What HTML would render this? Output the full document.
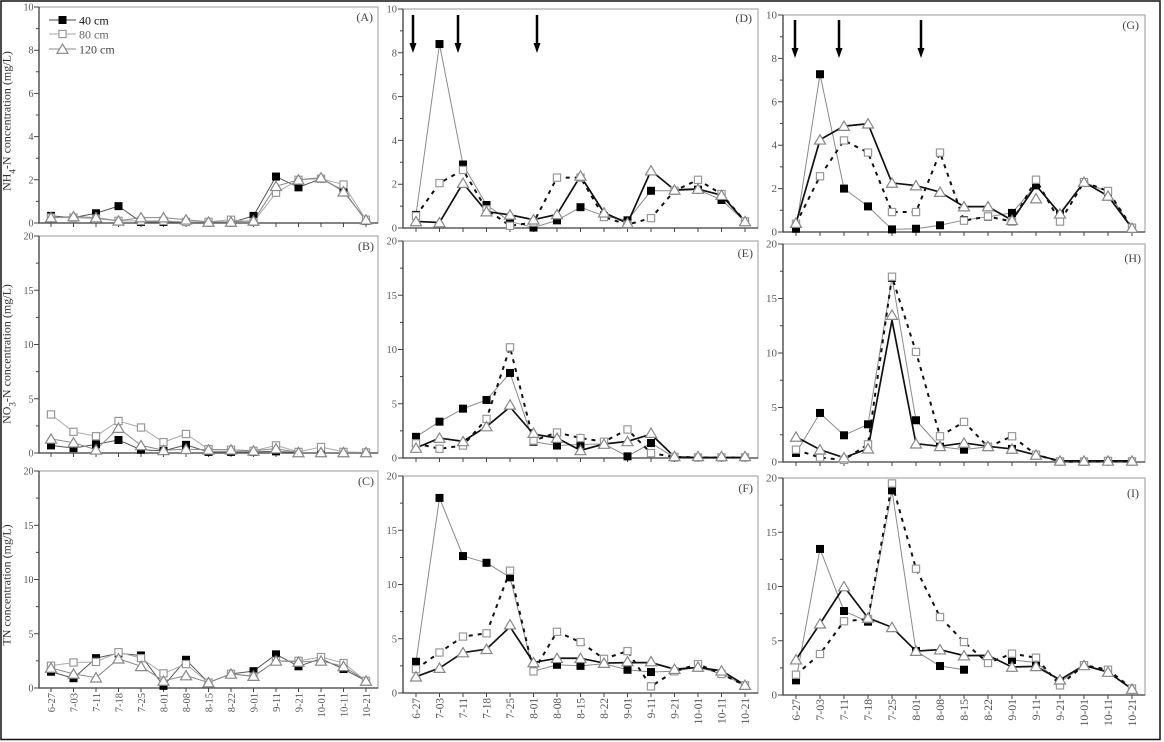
<!DOCTYPE html>
<html><head><meta charset="utf-8">
<style>
html,body{margin:0;padding:0;background:#fff}
svg{display:block}
text{font-family:"Liberation Serif",serif}
polyline{fill:none;vector-effect:non-scaling-stroke;stroke-linejoin:round}
.a{stroke:#555;stroke-width:1}.b{stroke:#aaa;stroke-width:1}.c{stroke:#888;stroke-width:1}
.f{stroke:#8a8a8a;stroke-width:1}.o{stroke:#111;stroke-width:2;stroke-dasharray:4 5}.t{stroke:#111;stroke-width:1.7}
.fr{fill:none;stroke:#aaa;stroke-width:1.2}
.ax{fill:none;stroke:#444;stroke-width:1.3}
.tk{fill:none;stroke:#444;stroke-width:1}
.yl{fill:#555;text-anchor:end}
.dl{fill:#555;text-anchor:end}
.pl{fill:#444;font-size:12px;text-anchor:end}
</style></head><body>
<svg width="1164" height="742" viewBox="0 0 1164 742" xmlns="http://www.w3.org/2000/svg">
<defs>
<rect id="bf" x="-4" y="-4" width="8" height="8" fill="#000"/>
<rect id="bo" x="-3.6" y="-3.6" width="7.2" height="7.2" fill="#fff" stroke="#999" stroke-width="1.2"/>
<polygon id="bt" points="0,-5 5.5,4.3 -5.5,4.3" fill="#fff" stroke="#888" stroke-width="1.2"/>
<g id="f1" transform="scale(0.044444,-0.046296)"><use href="#bf"/></g>
<g id="o1" transform="scale(0.044444,-0.046296)"><use href="#bo"/></g>
<g id="t1" transform="scale(0.044444,-0.046296)"><use href="#bt"/></g>
<g id="f2" transform="scale(0.044444,-0.092166)"><use href="#bf"/></g>
<g id="o2" transform="scale(0.044444,-0.092166)"><use href="#bo"/></g>
<g id="t2" transform="scale(0.044444,-0.092166)"><use href="#bt"/></g>
<g id="f3" transform="scale(0.042553,-0.045662)"><use href="#bf"/></g>
<g id="o3" transform="scale(0.042553,-0.045662)"><use href="#bo"/></g>
<g id="t3" transform="scale(0.042553,-0.045662)"><use href="#bt"/></g>
<g id="f4" transform="scale(0.042553,-0.092166)"><use href="#bf"/></g>
<g id="o4" transform="scale(0.042553,-0.092166)"><use href="#bo"/></g>
<g id="t4" transform="scale(0.042553,-0.092166)"><use href="#bt"/></g>
<g id="f5" transform="scale(0.041667,-0.046083)"><use href="#bf"/></g>
<g id="o5" transform="scale(0.041667,-0.046083)"><use href="#bo"/></g>
<g id="t5" transform="scale(0.041667,-0.046083)"><use href="#bt"/></g>
<g id="f6" transform="scale(0.041667,-0.091743)"><use href="#bf"/></g>
<g id="o6" transform="scale(0.041667,-0.091743)"><use href="#bo"/></g>
<g id="t6" transform="scale(0.041667,-0.091743)"><use href="#bt"/></g>
<g id="f7" transform="scale(0.041667,-0.092166)"><use href="#bf"/></g>
<g id="o7" transform="scale(0.041667,-0.092166)"><use href="#bo"/></g>
<g id="t7" transform="scale(0.041667,-0.092166)"><use href="#bt"/></g>
</defs>

<rect x="1" y="1" width="1159" height="738.5" fill="none" stroke="#111" stroke-width="1.5"/>

<!-- frames -->
<rect class="fr" x="39" y="7" width="339" height="216"/>
<rect class="fr" x="39" y="236" width="339" height="217"/>
<rect class="fr" x="39" y="471" width="339" height="217"/>
<rect class="fr" x="403" y="9" width="355" height="219"/>
<rect class="fr" x="403" y="241" width="355" height="217"/>
<rect class="fr" x="403" y="476" width="355" height="217"/>
<rect class="fr" x="783" y="15" width="362" height="217"/>
<rect class="fr" x="783" y="244" width="362" height="218"/>
<rect class="fr" x="783" y="478" width="362" height="217"/>
<path class="ax" d="M39,7V223H378M39,236V453H378M39,471V688H378M403,9V228H758M403,241V458H758M403,476V693H758M783,15V232H1145M783,244V462H1145M783,478V695H1145"/>

<!-- ticks -->
<path class="tk" d="
M39,223h-5m5,-43.2h-5m5,-43.2h-5m5,-43.2h-5m5,-43.2h-5m5,-43.2h-5
M39,201.4h-3m3,-43.2h-3m3,-43.2h-3m3,-43.2h-3m3,-43.2h-3
M39,453h-5m5,-54.25h-5m5,-54.25h-5m5,-54.25h-5m5,-54.25h-5
M39,425.9h-3m3,-54.25h-3m3,-54.25h-3m3,-54.25h-3
M39,688h-5m5,-54.25h-5m5,-54.25h-5m5,-54.25h-5m5,-54.25h-5
M39,660.9h-3m3,-54.25h-3m3,-54.25h-3m3,-54.25h-3
M403,228h-5m5,-43.8h-5m5,-43.8h-5m5,-43.8h-5m5,-43.8h-5m5,-43.8h-5
M403,206.1h-3m3,-43.8h-3m3,-43.8h-3m3,-43.8h-3m3,-43.8h-3
M403,458h-5m5,-54.25h-5m5,-54.25h-5m5,-54.25h-5m5,-54.25h-5
M403,430.9h-3m3,-54.25h-3m3,-54.25h-3m3,-54.25h-3
M403,693h-5m5,-54.25h-5m5,-54.25h-5m5,-54.25h-5m5,-54.25h-5
M403,665.9h-3m3,-54.25h-3m3,-54.25h-3m3,-54.25h-3
M783,232h-5m5,-43.4h-5m5,-43.4h-5m5,-43.4h-5m5,-43.4h-5m5,-43.4h-5
M783,210.3h-3m3,-43.4h-3m3,-43.4h-3m3,-43.4h-3m3,-43.4h-3
M783,462h-5m5,-54.5h-5m5,-54.5h-5m5,-54.5h-5m5,-54.5h-5
M783,434.75h-3m3,-54.5h-3m3,-54.5h-3m3,-54.5h-3
M783,695h-5m5,-54.25h-5m5,-54.25h-5m5,-54.25h-5m5,-54.25h-5
M783,667.9h-3m3,-54.25h-3m3,-54.25h-3m3,-54.25h-3
M51,223v4m22.5,-4v4m22.5,-4v4m22.5,-4v4m22.5,-4v4m22.5,-4v4m22.5,-4v4m22.5,-4v4m22.5,-4v4m22.5,-4v4m22.5,-4v4m22.5,-4v4m22.5,-4v4m22.5,-4v4m22.5,-4v4
M51,453v4m22.5,-4v4m22.5,-4v4m22.5,-4v4m22.5,-4v4m22.5,-4v4m22.5,-4v4m22.5,-4v4m22.5,-4v4m22.5,-4v4m22.5,-4v4m22.5,-4v4m22.5,-4v4m22.5,-4v4m22.5,-4v4
M51,688v4m22.5,-4v4m22.5,-4v4m22.5,-4v4m22.5,-4v4m22.5,-4v4m22.5,-4v4m22.5,-4v4m22.5,-4v4m22.5,-4v4m22.5,-4v4m22.5,-4v4m22.5,-4v4m22.5,-4v4m22.5,-4v4
M416,228v4m23.5,-4v4m23.5,-4v4m23.5,-4v4m23.5,-4v4m23.5,-4v4m23.5,-4v4m23.5,-4v4m23.5,-4v4m23.5,-4v4m23.5,-4v4m23.5,-4v4m23.5,-4v4m23.5,-4v4m23.5,-4v4
M416,458v4m23.5,-4v4m23.5,-4v4m23.5,-4v4m23.5,-4v4m23.5,-4v4m23.5,-4v4m23.5,-4v4m23.5,-4v4m23.5,-4v4m23.5,-4v4m23.5,-4v4m23.5,-4v4m23.5,-4v4m23.5,-4v4
M416,693v4m23.5,-4v4m23.5,-4v4m23.5,-4v4m23.5,-4v4m23.5,-4v4m23.5,-4v4m23.5,-4v4m23.5,-4v4m23.5,-4v4m23.5,-4v4m23.5,-4v4m23.5,-4v4m23.5,-4v4m23.5,-4v4
M796,232v4m24,-4v4m24,-4v4m24,-4v4m24,-4v4m24,-4v4m24,-4v4m24,-4v4m24,-4v4m24,-4v4m24,-4v4m24,-4v4m24,-4v4m24,-4v4m24,-4v4
M796,462v4m24,-4v4m24,-4v4m24,-4v4m24,-4v4m24,-4v4m24,-4v4m24,-4v4m24,-4v4m24,-4v4m24,-4v4m24,-4v4m24,-4v4m24,-4v4m24,-4v4
M796,695v4m24,-4v4m24,-4v4m24,-4v4m24,-4v4m24,-4v4m24,-4v4m24,-4v4m24,-4v4m24,-4v4m24,-4v4m24,-4v4m24,-4v4m24,-4v4m24,-4v4"/>

<!-- y tick labels -->
<g class="yl" font-size="10">
<text x="33.5" y="226.5">0</text><text x="33.5" y="183.3">2</text><text x="33.5" y="140.1">4</text><text x="33.5" y="96.9">6</text><text x="33.5" y="53.7">8</text><text x="33.5" y="10.5">10</text>
<text x="33.5" y="456.5">0</text><text x="33.5" y="402.25">5</text><text x="33.5" y="348">10</text><text x="33.5" y="293.75">15</text><text x="33.5" y="239.5">20</text>
<text x="33.5" y="691.5">0</text><text x="33.5" y="637.25">5</text><text x="33.5" y="583">10</text><text x="33.5" y="528.75">15</text><text x="33.5" y="474.5">20</text>
</g>
<g class="yl" font-size="10.5">
<text x="397" y="231.5">0</text><text x="397" y="187.7">2</text><text x="397" y="143.9">4</text><text x="397" y="100.1">6</text><text x="397" y="56.3">8</text><text x="397" y="12.5">10</text>
<text x="397" y="461.5">0</text><text x="397" y="407.25">5</text><text x="397" y="353">10</text><text x="397" y="298.75">15</text><text x="397" y="244.5">20</text>
<text x="397" y="696.5">0</text><text x="397" y="642.25">5</text><text x="397" y="588">10</text><text x="397" y="533.75">15</text><text x="397" y="479.5">20</text>
</g>
<g class="yl" font-size="11">
<text x="777" y="235.5">0</text><text x="777" y="192.1">2</text><text x="777" y="148.7">4</text><text x="777" y="105.3">6</text><text x="777" y="61.9">8</text><text x="777" y="18.5">10</text>
<text x="777" y="465.5">0</text><text x="777" y="411">5</text><text x="777" y="356.5">10</text><text x="777" y="302">15</text><text x="777" y="247.5">20</text>
<text x="777" y="698.5">0</text><text x="777" y="644.25">5</text><text x="777" y="590">10</text><text x="777" y="535.75">15</text><text x="777" y="481.5">20</text>
</g>

<!-- date labels -->
<g class="dl" font-size="10.5">
<text transform="translate(55,693) rotate(-90)">6-27</text>
<text transform="translate(77.5,693) rotate(-90)">7-03</text>
<text transform="translate(100,693) rotate(-90)">7-11</text>
<text transform="translate(122.5,693) rotate(-90)">7-18</text>
<text transform="translate(145,693) rotate(-90)">7-25</text>
<text transform="translate(167.5,693) rotate(-90)">8-01</text>
<text transform="translate(190,693) rotate(-90)">8-08</text>
<text transform="translate(212.5,693) rotate(-90)">8-15</text>
<text transform="translate(235,693) rotate(-90)">8-22</text>
<text transform="translate(257.5,693) rotate(-90)">9-01</text>
<text transform="translate(280,693) rotate(-90)">9-11</text>
<text transform="translate(302.5,693) rotate(-90)">9-21</text>
<text transform="translate(325,693) rotate(-90)">10-01</text>
<text transform="translate(347.5,693) rotate(-90)">10-11</text>
<text transform="translate(370,693) rotate(-90)">10-21</text>
</g>
<g class="dl" font-size="11.3">
<text transform="translate(420,698) rotate(-90)">6-27</text>
<text transform="translate(443.5,698) rotate(-90)">7-03</text>
<text transform="translate(467,698) rotate(-90)">7-11</text>
<text transform="translate(490.5,698) rotate(-90)">7-18</text>
<text transform="translate(514,698) rotate(-90)">7-25</text>
<text transform="translate(537.5,698) rotate(-90)">8-01</text>
<text transform="translate(561,698) rotate(-90)">8-08</text>
<text transform="translate(584.5,698) rotate(-90)">8-15</text>
<text transform="translate(608,698) rotate(-90)">8-22</text>
<text transform="translate(631.5,698) rotate(-90)">9-01</text>
<text transform="translate(655,698) rotate(-90)">9-11</text>
<text transform="translate(678.5,698) rotate(-90)">9-21</text>
<text transform="translate(702,698) rotate(-90)">10-01</text>
<text transform="translate(725.5,698) rotate(-90)">10-11</text>
<text transform="translate(749,698) rotate(-90)">10-21</text>
</g>
<g class="dl" font-size="11.8">
<text transform="translate(800,699) rotate(-90)">6-27</text>
<text transform="translate(824,699) rotate(-90)">7-03</text>
<text transform="translate(848,699) rotate(-90)">7-11</text>
<text transform="translate(872,699) rotate(-90)">7-18</text>
<text transform="translate(896,699) rotate(-90)">7-25</text>
<text transform="translate(920,699) rotate(-90)">8-01</text>
<text transform="translate(944,699) rotate(-90)">8-08</text>
<text transform="translate(968,699) rotate(-90)">8-15</text>
<text transform="translate(992,699) rotate(-90)">8-22</text>
<text transform="translate(1016,699) rotate(-90)">9-01</text>
<text transform="translate(1040,699) rotate(-90)">9-11</text>
<text transform="translate(1064,699) rotate(-90)">9-21</text>
<text transform="translate(1088,699) rotate(-90)">10-01</text>
<text transform="translate(1112,699) rotate(-90)">10-11</text>
<text transform="translate(1136,699) rotate(-90)">10-21</text>
</g>

<!-- y axis titles -->
<text transform="translate(10.5,121) rotate(-90)" text-anchor="middle" font-size="12" fill="#333">NH<tspan baseline-shift="sub" font-size="9">4</tspan>-N concentration (mg/L)</text>
<text transform="translate(10.5,354) rotate(-90)" text-anchor="middle" font-size="12" fill="#333">NO<tspan baseline-shift="sub" font-size="9">3</tspan>-N concentration (mg/L)</text>
<text transform="translate(10.5,585) rotate(-90)" text-anchor="middle" font-size="12" fill="#333">TN concentration (mg/L)</text>

<!-- panel labels -->
<text class="pl" x="373" y="21">(A)</text>
<text class="pl" x="374" y="250">(B)</text>
<text class="pl" x="374" y="485">(C)</text>
<text class="pl" x="752" y="22">(D)</text>
<text class="pl" x="753" y="257">(E)</text>
<text class="pl" x="753" y="492">(F)</text>
<text class="pl" x="1139" y="29">(G)</text>
<text class="pl" x="1141" y="262">(H)</text>
<text class="pl" x="1139" y="497">(I)</text>

<!-- legend -->
<path d="M49,20H76" stroke="#444" stroke-width="1"/>
<path d="M49,34H76" stroke="#aaa" stroke-width="1"/>
<path d="M49,49H76" stroke="#888" stroke-width="1"/>
<use href="#bf" x="62.5" y="20"/>
<use href="#bo" x="62.5" y="34"/>
<use href="#bt" x="62.5" y="49"/>
<text x="79" y="24.5" font-size="12" fill="#111">40 cm</text>
<text x="79" y="38.5" font-size="12" fill="#666">80 cm</text>
<text x="79" y="53.5" font-size="12" fill="#444">120 cm</text>

<!-- arrows -->
<g stroke="#000" stroke-width="2.5">
<path d="M413,15V45M458,15V45M537,15V45M795,20V50M839,20V50M921,20V50"/>
</g>
<g fill="#000">
<polygon points="409.5,43 416.5,43 413,53"/><polygon points="454.5,43 461.5,43 458,53"/><polygon points="533.5,43 540.5,43 537,53"/>
<polygon points="791.5,48 798.5,48 795,58"/><polygon points="835.5,48 842.5,48 839,58"/><polygon points="917.5,48 924.5,48 921,58"/>
</g>

<!-- Panel A -->
<g transform="translate(51,223) scale(22.5,-21.6)">
<polyline class="a" points="0,.33 1,.25 2,.45 3,.78 4,.05 5,.05 6,.05 7,.02 8,.02 9,.33 10,2.15 11,1.65 12,2.05 13,1.5 14,.1"/>
<polyline class="b" points="0,.25 1,.25 2,.2 3,.1 4,.1 5,.1 6,.05 7,.05 8,.15 9,.05 10,1.4 11,2 12,2.05 13,1.78 14,.15"/>
<polyline class="c" points="0,.25 1,.3 2,.25 3,.1 4,.25 5,.25 6,.15 7,.05 8,.05 9,.1 10,1.7 11,2 12,2.1 13,1.45 14,.15"/>
<use href="#f1" x="0" y=".33"/><use href="#f1" x="1" y=".25"/><use href="#f1" x="2" y=".45"/><use href="#f1" x="3" y=".78"/><use href="#f1" x="4" y=".05"/><use href="#f1" x="5" y=".05"/><use href="#f1" x="6" y=".05"/><use href="#f1" x="7" y=".02"/><use href="#f1" x="8" y=".02"/><use href="#f1" x="9" y=".33"/><use href="#f1" x="10" y="2.15"/><use href="#f1" x="11" y="1.65"/><use href="#f1" x="12" y="2.05"/><use href="#f1" x="13" y="1.5"/><use href="#f1" x="14" y=".1"/>
<use href="#o1" x="0" y=".25"/><use href="#o1" x="1" y=".25"/><use href="#o1" x="2" y=".2"/><use href="#o1" x="3" y=".1"/><use href="#o1" x="4" y=".1"/><use href="#o1" x="5" y=".1"/><use href="#o1" x="6" y=".05"/><use href="#o1" x="7" y=".05"/><use href="#o1" x="8" y=".15"/><use href="#o1" x="9" y=".05"/><use href="#o1" x="10" y="1.4"/><use href="#o1" x="11" y="2"/><use href="#o1" x="12" y="2.05"/><use href="#o1" x="13" y="1.78"/><use href="#o1" x="14" y=".15"/>
<use href="#t1" x="0" y=".25"/><use href="#t1" x="1" y=".3"/><use href="#t1" x="2" y=".25"/><use href="#t1" x="3" y=".1"/><use href="#t1" x="4" y=".25"/><use href="#t1" x="5" y=".25"/><use href="#t1" x="6" y=".15"/><use href="#t1" x="7" y=".05"/><use href="#t1" x="8" y=".05"/><use href="#t1" x="9" y=".1"/><use href="#t1" x="10" y="1.7"/><use href="#t1" x="11" y="2"/><use href="#t1" x="12" y="2.1"/><use href="#t1" x="13" y="1.45"/><use href="#t1" x="14" y=".15"/>
</g>

<!-- Panel B -->
<g transform="translate(51,453) scale(22.5,-10.85)">
<polyline class="a" points="0,.7 1,.45 2,.8 3,1.2 4,.3 5,.2 6,.75 7,.1 8,.1 9,.1 10,.15 11,.02 12,.02 13,.02 14,.02"/>
<polyline class="b" points="0,3.55 1,1.95 2,1.55 3,2.95 4,2.35 5,1 6,1.75 7,.35 8,.3 9,.2 10,.7 11,.1 12,.55 13,.1 14,.05"/>
<polyline class="c" points="0,1.3 1,.95 2,.3 3,2.3 4,.7 5,.25 6,.35 7,.3 8,.3 9,.2 10,.4 11,.05 12,.05 13,.05 14,.05"/>
<use href="#f2" x="0" y=".7"/><use href="#f2" x="1" y=".45"/><use href="#f2" x="2" y=".8"/><use href="#f2" x="3" y="1.2"/><use href="#f2" x="4" y=".3"/><use href="#f2" x="5" y=".2"/><use href="#f2" x="6" y=".75"/><use href="#f2" x="7" y=".1"/><use href="#f2" x="8" y=".1"/><use href="#f2" x="9" y=".1"/><use href="#f2" x="10" y=".15"/><use href="#f2" x="11" y=".02"/><use href="#f2" x="12" y=".02"/><use href="#f2" x="13" y=".02"/><use href="#f2" x="14" y=".02"/>
<use href="#o2" x="0" y="3.55"/><use href="#o2" x="1" y="1.95"/><use href="#o2" x="2" y="1.55"/><use href="#o2" x="3" y="2.95"/><use href="#o2" x="4" y="2.35"/><use href="#o2" x="5" y="1"/><use href="#o2" x="6" y="1.75"/><use href="#o2" x="7" y=".35"/><use href="#o2" x="8" y=".3"/><use href="#o2" x="9" y=".2"/><use href="#o2" x="10" y=".7"/><use href="#o2" x="11" y=".1"/><use href="#o2" x="12" y=".55"/><use href="#o2" x="13" y=".1"/><use href="#o2" x="14" y=".05"/>
<use href="#t2" x="0" y="1.3"/><use href="#t2" x="1" y=".95"/><use href="#t2" x="2" y=".3"/><use href="#t2" x="3" y="2.3"/><use href="#t2" x="4" y=".7"/><use href="#t2" x="5" y=".25"/><use href="#t2" x="6" y=".35"/><use href="#t2" x="7" y=".3"/><use href="#t2" x="8" y=".3"/><use href="#t2" x="9" y=".2"/><use href="#t2" x="10" y=".4"/><use href="#t2" x="11" y=".05"/><use href="#t2" x="12" y=".05"/><use href="#t2" x="13" y=".05"/><use href="#t2" x="14" y=".05"/>
</g>

<!-- Panel C -->
<g transform="translate(51,688) scale(22.5,-10.85)">
<polyline class="a" points="0,1.5 1,.9 2,2.75 3,3.2 4,3 5,.2 6,2.6 7,.5 8,1.3 9,1.55 10,3.1 11,2 12,2.7 13,1.75 14,.65"/>
<polyline class="b" points="0,2.05 1,2.35 2,2.4 3,3.3 4,2.75 5,1.35 6,2.2 7,.5 8,1.3 9,1.05 10,2.5 11,2.5 12,2.85 13,2.3 14,.65"/>
<polyline class="c" points="0,1.85 1,1.3 2,.95 3,2.7 4,2 5,.65 6,1.15 7,.5 8,1.3 9,1.1 10,2.5 11,2.4 12,2.5 13,2 14,.65"/>
<use href="#f2" x="0" y="1.5"/><use href="#f2" x="1" y=".9"/><use href="#f2" x="2" y="2.75"/><use href="#f2" x="3" y="3.2"/><use href="#f2" x="4" y="3"/><use href="#f2" x="5" y=".2"/><use href="#f2" x="6" y="2.6"/><use href="#f2" x="7" y=".5"/><use href="#f2" x="8" y="1.3"/><use href="#f2" x="9" y="1.55"/><use href="#f2" x="10" y="3.1"/><use href="#f2" x="11" y="2"/><use href="#f2" x="12" y="2.7"/><use href="#f2" x="13" y="1.75"/><use href="#f2" x="14" y=".65"/>
<use href="#o2" x="0" y="2.05"/><use href="#o2" x="1" y="2.35"/><use href="#o2" x="2" y="2.4"/><use href="#o2" x="3" y="3.3"/><use href="#o2" x="4" y="2.75"/><use href="#o2" x="5" y="1.35"/><use href="#o2" x="6" y="2.2"/><use href="#o2" x="7" y=".5"/><use href="#o2" x="8" y="1.3"/><use href="#o2" x="9" y="1.05"/><use href="#o2" x="10" y="2.5"/><use href="#o2" x="11" y="2.5"/><use href="#o2" x="12" y="2.85"/><use href="#o2" x="13" y="2.3"/><use href="#o2" x="14" y=".65"/>
<use href="#t2" x="0" y="1.85"/><use href="#t2" x="1" y="1.3"/><use href="#t2" x="2" y=".95"/><use href="#t2" x="3" y="2.7"/><use href="#t2" x="4" y="2"/><use href="#t2" x="5" y=".65"/><use href="#t2" x="6" y="1.15"/><use href="#t2" x="7" y=".5"/><use href="#t2" x="8" y="1.3"/><use href="#t2" x="9" y="1.1"/><use href="#t2" x="10" y="2.5"/><use href="#t2" x="11" y="2.4"/><use href="#t2" x="12" y="2.5"/><use href="#t2" x="13" y="2"/><use href="#t2" x="14" y=".65"/>
</g>

<!-- Panel D -->
<g transform="translate(416,228) scale(23.5,-21.9)">
<polyline class="f" points="0,.6 1,8.4 2,2.9 3,1.05 4,.3 5,.02 6,.35 7,.95 8,.55 9,.35 10,1.7 11,1.7 12,1.75 13,1.28 14,.3"/>
<polyline class="o" points="0,.55 1,2.05 2,2.65 3,.85 4,.1 5,.25 6,2.3 7,2.3 8,.5 9,.15 10,.45 11,1.7 12,2.2 13,1.55 14,.3"/>
<polyline class="t" points="0,.3 1,.25 2,2.05 3,.75 4,.6 5,.38 6,.62 7,2.38 8,.7 9,.22 10,2.62 11,1.74 12,1.78 13,1.5 14,.3"/>
<use href="#f3" x="0" y=".6"/><use href="#f3" x="1" y="8.4"/><use href="#f3" x="2" y="2.9"/><use href="#f3" x="3" y="1.05"/><use href="#f3" x="4" y=".3"/><use href="#f3" x="5" y=".02"/><use href="#f3" x="6" y=".35"/><use href="#f3" x="7" y=".95"/><use href="#f3" x="8" y=".55"/><use href="#f3" x="9" y=".35"/><use href="#f3" x="10" y="1.7"/><use href="#f3" x="11" y="1.7"/><use href="#f3" x="12" y="1.75"/><use href="#f3" x="13" y="1.28"/><use href="#f3" x="14" y=".3"/>
<use href="#o3" x="0" y=".55"/><use href="#o3" x="1" y="2.05"/><use href="#o3" x="2" y="2.65"/><use href="#o3" x="3" y=".85"/><use href="#o3" x="4" y=".1"/><use href="#o3" x="5" y=".25"/><use href="#o3" x="6" y="2.3"/><use href="#o3" x="7" y="2.3"/><use href="#o3" x="8" y=".5"/><use href="#o3" x="9" y=".15"/><use href="#o3" x="10" y=".45"/><use href="#o3" x="11" y="1.7"/><use href="#o3" x="12" y="2.2"/><use href="#o3" x="13" y="1.55"/><use href="#o3" x="14" y=".3"/>
<use href="#t3" x="0" y=".3"/><use href="#t3" x="1" y=".25"/><use href="#t3" x="2" y="2.05"/><use href="#t3" x="3" y=".75"/><use href="#t3" x="4" y=".6"/><use href="#t3" x="5" y=".38"/><use href="#t3" x="6" y=".62"/><use href="#t3" x="7" y="2.38"/><use href="#t3" x="8" y=".7"/><use href="#t3" x="9" y=".22"/><use href="#t3" x="10" y="2.62"/><use href="#t3" x="11" y="1.74"/><use href="#t3" x="12" y="1.78"/><use href="#t3" x="13" y="1.5"/><use href="#t3" x="14" y=".3"/>
</g>

<!-- Panel E -->
<g transform="translate(416,458) scale(23.5,-10.85)">
<polyline class="f" points="0,1.95 1,3.35 2,4.55 3,5.35 4,7.84 5,1.5 6,1.15 7,1.25 8,1.3 9,.15 10,1.38 11,.05 12,.05 13,.05 14,.05"/>
<polyline class="o" points="0,1.35 1,.85 2,1.15 3,3.6 4,10.2 5,1.6 6,2.35 7,1.84 8,1.5 9,2.63 10,.45 11,.1 12,.05 13,.05 14,.05"/>
<polyline class="t" points="0,.92 1,1.84 2,1.53 3,2.9 4,4.7 5,2.2 6,1.84 7,.7 8,1.29 9,1.53 10,2.2 11,.1 12,.05 13,.05 14,.05"/>
<use href="#f4" x="0" y="1.95"/><use href="#f4" x="1" y="3.35"/><use href="#f4" x="2" y="4.55"/><use href="#f4" x="3" y="5.35"/><use href="#f4" x="4" y="7.84"/><use href="#f4" x="5" y="1.5"/><use href="#f4" x="6" y="1.15"/><use href="#f4" x="7" y="1.25"/><use href="#f4" x="8" y="1.3"/><use href="#f4" x="9" y=".15"/><use href="#f4" x="10" y="1.38"/><use href="#f4" x="11" y=".05"/><use href="#f4" x="12" y=".05"/><use href="#f4" x="13" y=".05"/><use href="#f4" x="14" y=".05"/>
<use href="#o4" x="0" y="1.35"/><use href="#o4" x="1" y=".85"/><use href="#o4" x="2" y="1.15"/><use href="#o4" x="3" y="3.6"/><use href="#o4" x="4" y="10.2"/><use href="#o4" x="5" y="1.6"/><use href="#o4" x="6" y="2.35"/><use href="#o4" x="7" y="1.84"/><use href="#o4" x="8" y="1.5"/><use href="#o4" x="9" y="2.63"/><use href="#o4" x="10" y=".45"/><use href="#o4" x="11" y=".1"/><use href="#o4" x="12" y=".05"/><use href="#o4" x="13" y=".05"/><use href="#o4" x="14" y=".05"/>
<use href="#t4" x="0" y=".92"/><use href="#t4" x="1" y="1.84"/><use href="#t4" x="2" y="1.53"/><use href="#t4" x="3" y="2.9"/><use href="#t4" x="4" y="4.9"/><use href="#t4" x="5" y="2.3"/><use href="#t4" x="6" y="1.84"/><use href="#t4" x="7" y=".7"/><use href="#t4" x="8" y="1.29"/><use href="#t4" x="9" y="1.53"/><use href="#t4" x="10" y="2.3"/><use href="#t4" x="11" y=".15"/><use href="#t4" x="12" y=".15"/><use href="#t4" x="13" y=".15"/><use href="#t4" x="14" y=".15"/>
</g>

<!-- Panel F -->
<g transform="translate(416,693) scale(23.5,-10.85)">
<polyline class="f" points="0,2.88 1,17.98 2,12.62 3,12 4,10.66 5,2 6,2.6 7,2.5 8,2.7 9,2.14 10,1.93 11,2 12,2.4 13,1.75 14,.7"/>
<polyline class="o" points="0,2.2 1,3.73 2,5.2 3,5.5 4,11.27 5,1.99 6,5.64 7,4.69 8,3.15 9,3.86 10,.61 11,2 12,2.66 13,1.75 14,.7"/>
<polyline class="t" points="0,1.5 1,2.3 2,3.73 3,4.04 4,6.1 5,2.82 6,3.2 7,3.2 8,2.76 9,2.8 10,2.8 11,2.2 12,2.35 13,2.05 14,.73"/>
<use href="#f4" x="0" y="2.88"/><use href="#f4" x="1" y="17.98"/><use href="#f4" x="2" y="12.62"/><use href="#f4" x="3" y="12"/><use href="#f4" x="4" y="10.66"/><use href="#f4" x="5" y="2"/><use href="#f4" x="6" y="2.6"/><use href="#f4" x="7" y="2.5"/><use href="#f4" x="8" y="2.7"/><use href="#f4" x="9" y="2.14"/><use href="#f4" x="10" y="1.93"/><use href="#f4" x="11" y="2"/><use href="#f4" x="12" y="2.4"/><use href="#f4" x="13" y="1.75"/><use href="#f4" x="14" y=".7"/>
<use href="#o4" x="0" y="2.2"/><use href="#o4" x="1" y="3.73"/><use href="#o4" x="2" y="5.2"/><use href="#o4" x="3" y="5.5"/><use href="#o4" x="4" y="11.27"/><use href="#o4" x="5" y="1.99"/><use href="#o4" x="6" y="5.64"/><use href="#o4" x="7" y="4.69"/><use href="#o4" x="8" y="3.15"/><use href="#o4" x="9" y="3.86"/><use href="#o4" x="10" y=".61"/><use href="#o4" x="11" y="2"/><use href="#o4" x="12" y="2.66"/><use href="#o4" x="13" y="1.75"/><use href="#o4" x="14" y=".7"/>
<use href="#t4" x="0" y="1.5"/><use href="#t4" x="1" y="2.3"/><use href="#t4" x="2" y="3.73"/><use href="#t4" x="3" y="4.04"/><use href="#t4" x="4" y="6.3"/><use href="#t4" x="5" y="2.82"/><use href="#t4" x="6" y="3.2"/><use href="#t4" x="7" y="3.2"/><use href="#t4" x="8" y="2.76"/><use href="#t4" x="9" y="2.9"/><use href="#t4" x="10" y="2.9"/><use href="#t4" x="11" y="2.2"/><use href="#t4" x="12" y="2.4"/><use href="#t4" x="13" y="2.05"/><use href="#t4" x="14" y=".73"/>
</g>

<!-- Panel G -->
<g transform="translate(796,232) scale(24,-21.7)">
<polyline class="f" points="0,.15 1,7.27 2,2 3,1.18 4,.12 5,.15 6,.31 7,.55 8,.7 9,.88 10,2.15 11,.8 12,2.3 13,1.85 14,.2"/>
<polyline class="o" points="0,.38 1,2.57 2,4.22 3,3.66 4,.92 5,.92 6,3.66 7,.52 8,.72 9,.48 10,2.41 11,.48 12,2.3 13,1.89 14,.2"/>
<polyline class="t" points="0,.41 1,4.25 2,4.88 3,4.99 4,2.26 5,2.14 6,1.84 7,1.17 8,1.17 9,.54 10,2.15 11,.84 12,2.3 13,1.66 14,.18"/>
<use href="#f5" x="0" y=".15"/><use href="#f5" x="1" y="7.27"/><use href="#f5" x="2" y="2"/><use href="#f5" x="3" y="1.18"/><use href="#f5" x="4" y=".12"/><use href="#f5" x="5" y=".15"/><use href="#f5" x="6" y=".31"/><use href="#f5" x="7" y=".55"/><use href="#f5" x="8" y=".7"/><use href="#f5" x="9" y=".88"/><use href="#f5" x="10" y="2.15"/><use href="#f5" x="11" y=".8"/><use href="#f5" x="12" y="2.3"/><use href="#f5" x="13" y="1.85"/><use href="#f5" x="14" y=".2"/>
<use href="#o5" x="0" y=".38"/><use href="#o5" x="1" y="2.57"/><use href="#o5" x="2" y="4.22"/><use href="#o5" x="3" y="3.66"/><use href="#o5" x="4" y=".92"/><use href="#o5" x="5" y=".92"/><use href="#o5" x="6" y="3.66"/><use href="#o5" x="7" y=".52"/><use href="#o5" x="8" y=".72"/><use href="#o5" x="9" y=".48"/><use href="#o5" x="10" y="2.41"/><use href="#o5" x="11" y=".48"/><use href="#o5" x="12" y="2.3"/><use href="#o5" x="13" y="1.89"/><use href="#o5" x="14" y=".2"/>
<use href="#t5" x="0" y=".41"/><use href="#t5" x="1" y="4.25"/><use href="#t5" x="2" y="4.88"/><use href="#t5" x="3" y="4.99"/><use href="#t5" x="4" y="2.26"/><use href="#t5" x="5" y="2.14"/><use href="#t5" x="6" y="1.84"/><use href="#t5" x="7" y="1.17"/><use href="#t5" x="8" y="1.17"/><use href="#t5" x="9" y=".54"/><use href="#t5" x="10" y="1.54"/><use href="#t5" x="11" y=".84"/><use href="#t5" x="12" y="2.3"/><use href="#t5" x="13" y="1.66"/><use href="#t5" x="14" y=".18"/>
</g>

<!-- Panel H -->
<g transform="translate(796,462) scale(24,-10.9)">
<polyline class="f" points="0,.83 1,4.5 2,2.45 3,3.46 4,16.9 5,3.83 6,1.4 7,1.13 8,1.4 9,1.2 10,.65 11,.05 12,.05 13,.05 14,.05"/>
<polyline class="o" points="0,1.13 1,.4 2,.2 3,1.62 4,17 5,10.1 6,2.36 7,3.68 8,1.38 9,2.36 10,.67 11,.05 12,.02 13,.1 14,.05"/>
<polyline class="t" points="0,2.3 1,1.13 2,.4 3,1.22 4,13 5,1.68 6,1.44 7,1.75 8,1.44 9,1.2 10,.65 11,.1 12,.1 13,.1 14,.1"/>
<use href="#f6" x="0" y=".83"/><use href="#f6" x="1" y="4.5"/><use href="#f6" x="2" y="2.45"/><use href="#f6" x="3" y="3.46"/><use href="#f6" x="4" y="16.9"/><use href="#f6" x="5" y="3.83"/><use href="#f6" x="6" y="1.4"/><use href="#f6" x="7" y="1.13"/><use href="#f6" x="8" y="1.4"/><use href="#f6" x="9" y="1.2"/><use href="#f6" x="10" y=".65"/><use href="#f6" x="11" y=".05"/><use href="#f6" x="12" y=".05"/><use href="#f6" x="13" y=".05"/><use href="#f6" x="14" y=".05"/>
<use href="#o6" x="0" y="1.13"/><use href="#o6" x="1" y=".4"/><use href="#o6" x="2" y=".2"/><use href="#o6" x="3" y="1.62"/><use href="#o6" x="4" y="17"/><use href="#o6" x="5" y="10.1"/><use href="#o6" x="6" y="2.36"/><use href="#o6" x="7" y="3.68"/><use href="#o6" x="8" y="1.38"/><use href="#o6" x="9" y="2.36"/><use href="#o6" x="10" y=".67"/><use href="#o6" x="11" y=".05"/><use href="#o6" x="12" y=".02"/><use href="#o6" x="13" y=".1"/><use href="#o6" x="14" y=".05"/>
<use href="#t6" x="0" y="2.3"/><use href="#t6" x="1" y="1.13"/><use href="#t6" x="2" y=".4"/><use href="#t6" x="3" y="1.22"/><use href="#t6" x="4" y="13.48"/><use href="#t6" x="5" y="1.68"/><use href="#t6" x="6" y="1.44"/><use href="#t6" x="7" y="1.75"/><use href="#t6" x="8" y="1.44"/><use href="#t6" x="9" y="1.2"/><use href="#t6" x="10" y=".65"/><use href="#t6" x="11" y=".1"/><use href="#t6" x="12" y=".1"/><use href="#t6" x="13" y=".1"/><use href="#t6" x="14" y=".1"/>
</g>

<!-- Panel I -->
<g transform="translate(796,695) scale(24,-10.85)">
<polyline class="f" points="0,1.35 1,13.46 2,7.74 3,6.76 4,18.86 5,4.05 6,2.67 7,2.33"/>
<polyline class="f" points="9,3.23 10,3 11,1.2 12,2.7 13,2.1 14,.6"/>
<polyline class="o" points="0,1.87 1,3.78 2,6.8 3,7 4,19.5 5,11.64 6,7.19 7,4.88 8,2.95 9,3.81 10,3.44 11,.89 12,2.75 13,2.33 14,.6"/>
<polyline class="t" points="0,3.26 1,6.57 2,10 3,7.1 4,6.24 5,4.05 6,4.18 7,3.63 8,3.65 9,2.58 10,2.64 11,1.41 12,2.73 13,2.12 14,.55"/>
<use href="#f7" x="0" y="1.35"/><use href="#f7" x="1" y="13.46"/><use href="#f7" x="2" y="7.74"/><use href="#f7" x="3" y="6.76"/><use href="#f7" x="4" y="18.86"/><use href="#f7" x="5" y="4.05"/><use href="#f7" x="6" y="2.67"/><use href="#f7" x="7" y="2.33"/><use href="#f7" x="9" y="3.23"/><use href="#f7" x="10" y="3"/><use href="#f7" x="11" y="1.2"/><use href="#f7" x="12" y="2.7"/><use href="#f7" x="13" y="2.1"/><use href="#f7" x="14" y=".6"/>
<use href="#o7" x="0" y="1.87"/><use href="#o7" x="1" y="3.78"/><use href="#o7" x="2" y="6.8"/><use href="#o7" x="3" y="7"/><use href="#o7" x="4" y="19.5"/><use href="#o7" x="5" y="11.64"/><use href="#o7" x="6" y="7.19"/><use href="#o7" x="7" y="4.88"/><use href="#o7" x="8" y="2.95"/><use href="#o7" x="9" y="3.81"/><use href="#o7" x="10" y="3.44"/><use href="#o7" x="11" y=".89"/><use href="#o7" x="12" y="2.75"/><use href="#o7" x="13" y="2.33"/><use href="#o7" x="14" y=".6"/>
<use href="#t7" x="0" y="3.26"/><use href="#t7" x="1" y="6.57"/><use href="#t7" x="2" y="10"/><use href="#t7" x="3" y="7.1"/><use href="#t7" x="4" y="6.24"/><use href="#t7" x="5" y="4.05"/><use href="#t7" x="6" y="4.18"/><use href="#t7" x="7" y="3.63"/><use href="#t7" x="8" y="3.65"/><use href="#t7" x="9" y="2.58"/><use href="#t7" x="10" y="2.64"/><use href="#t7" x="11" y="1.41"/><use href="#t7" x="12" y="2.73"/><use href="#t7" x="13" y="2.12"/><use href="#t7" x="14" y=".55"/>
</g>
</svg>
</body></html>
